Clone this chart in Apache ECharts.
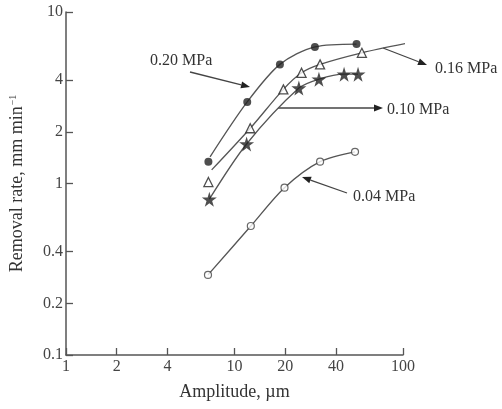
<!DOCTYPE html>
<html>
<head>
<meta charset="utf-8">
<script src="https://cdn.jsdelivr.net/npm/echarts@6/dist/echarts.min.js"></script>
<style>html,body{margin:0;padding:0;background:#fff}#c{width:502px;height:409px}</style>
</head>
<body>
<div id="c"></div>
<script>
// ---- data (amplitude in µm, removal rate in mm/min) ----
const xTicks = [1, 2, 4, 10, 20, 40, 100];
const yTicks = [0.1, 0.2, 0.4, 1, 2, 4, 10];

// 0.20 MPa (filled circles)
const p020Amp  = [7.0, 11.9, 18.6, 30.0, 53.0];
const p020Rate = [1.34, 2.99, 4.95, 6.26, 6.5];
const p020CurveAmp  = [7.16, 11.9, 18.6, 30.0, 53.0];
const p020CurveRate = [1.43, 2.99, 4.95, 6.26, 6.5];

// 0.16 MPa (open triangles)
const p016Amp  = [7.0, 12.4, 19.5, 25.0, 32.2, 57.0];
const p016Rate = [1.02, 2.10, 3.54, 4.42, 4.95, 5.78];
const p016CurveAmp  = [7.32, 12.4, 19.5, 25.0, 32.2, 57.0, 105];
const p016CurveRate = [1.20, 2.10, 3.54, 4.42, 4.95, 5.78, 6.56];

// 0.10 MPa (stars)
const p010Amp  = [7.09, 11.8, 24.1, 31.7, 44.7, 54.1];
const p010Rate = [0.81, 1.70, 3.60, 4.06, 4.34, 4.34];

// 0.04 MPa (open circles)
const p004Amp  = [6.96, 12.5, 19.8, 32.2, 51.9];
const p004Rate = [0.293, 0.565, 0.945, 1.34, 1.53];

const zip = (a, b) => a.map((v, i) => [v, b[i]]);

const STAR = 'path://M50,0 L61,35 L98,35 L68,57 L79,91 L50,70 L21,91 L32,57 L2,35 L39,35 Z';
const FONT = '"Liberation Serif", "Times New Roman", serif';
const LINE = '#555';

function arrow(x1, y1, x2, y2) {
  const a = Math.atan2(y2 - y1, x2 - x1);
  const L = 9, W = 3.5;
  const bx = x2 - L * Math.cos(a), by = y2 - L * Math.sin(a);
  const px = -Math.sin(a) * W, py = Math.cos(a) * W;
  return [
    {type: 'line', shape: {x1: x1, y1: y1, x2: bx, y2: by}, style: {stroke: '#444', lineWidth: 1.3}},
    {type: 'polygon', shape: {points: [[x2, y2], [bx + px, by + py], [bx - px, by - py]]}, style: {fill: '#222'}}
  ];
}
function label(text, x, y) {
  return {type: 'text', left: x, top: y - 9,
    style: {text: text, font: '16px ' + FONT, fill: '#333'}};
}

const lineSeries = (data) => ({
  type: 'line', data: data, symbol: 'none', smooth: 0.3, clip: false,
  lineStyle: {color: LINE, width: 1.3}, z: 2, silent: true
});

const fmt = v => String(+(+v).toPrecision(3));

const chart = echarts.init(document.getElementById('c'), null, {renderer: 'canvas'});
chart.setOption({
  backgroundColor: '#fff',
  animation: false,
  grid: {left: 65, right: 99, top: 12, bottom: 54},
  xAxis: {
    type: 'log', logBase: 10, min: 1, max: 100,
    name: 'Amplitude, µm', nameLocation: 'middle', nameGap: 28,
    nameTextStyle: {fontFamily: FONT, fontSize: 18, color: '#333'},
    axisLine: {lineStyle: {color: LINE, width: 1.5}},
    axisTick: {inside: true, length: 7, lineStyle: {color: LINE, width: 1.3}, customValues: xTicks},
    axisLabel: {customValues: xTicks, formatter: fmt, fontFamily: FONT, fontSize: 16, color: '#444', margin: 4},
    splitLine: {show: false}, minorTick: {show: false}
  },
  yAxis: {
    type: 'log', logBase: 10, min: 0.1, max: 10,
    name: 'Removal rate, mm min{sup|−1}', nameLocation: 'middle', nameGap: 40,
    nameTextStyle: {fontFamily: FONT, fontSize: 18, color: '#333',
      rich: {sup: {fontFamily: FONT, fontSize: 10, color: '#333', verticalAlign: 'top', padding: [0, 0, 8, 1]}}},
    axisLine: {show: true, lineStyle: {color: LINE, width: 1.5}},
    axisTick: {show: true, inside: true, length: 7, lineStyle: {color: LINE, width: 1.3}, customValues: yTicks},
    axisLabel: {customValues: yTicks, formatter: fmt, fontFamily: FONT, fontSize: 16, color: '#444', margin: 3},
    splitLine: {show: false}, minorTick: {show: false}
  },
  series: [
    lineSeries(zip(p020CurveAmp, p020CurveRate)),
    lineSeries(zip(p016CurveAmp, p016CurveRate)),
    lineSeries(zip(p010Amp, p010Rate)),
    lineSeries(zip(p004Amp, p004Rate)),
    {type: 'scatter', data: zip(p020Amp, p020Rate), symbol: 'circle', symbolSize: 8,
      itemStyle: {color: '#222'}, z: 5},
    {type: 'scatter', data: zip(p016Amp, p016Rate), symbol: 'triangle', symbolSize: 9,
      itemStyle: {color: '#fff', borderColor: '#222', borderWidth: 1.3}, z: 5},
    {type: 'scatter', data: zip(p010Amp, p010Rate), symbol: STAR, symbolSize: 15,
      itemStyle: {color: '#222'}, z: 5},
    {type: 'scatter', data: zip(p004Amp, p004Rate), symbol: 'circle', symbolSize: 7,
      itemStyle: {color: '#fff', borderColor: '#444', borderWidth: 1.2}, z: 5}
  ],
  graphic: [
    ...arrow(190, 72, 250, 87),
    ...arrow(383, 48, 427, 65),
    ...arrow(278, 108, 383, 108),
    ...arrow(347, 193, 302, 177),
    label('0.20 MPa', 150, 62),
    label('0.16 MPa', 435, 70),
    label('0.10 MPa', 387, 111),
    label('0.04 MPa', 353, 198)
  ]
});
</script>
</body>
</html>
